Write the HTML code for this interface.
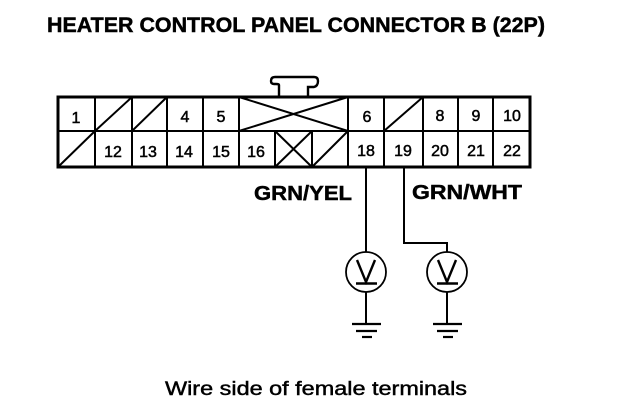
<!DOCTYPE html>
<html>
<head>
<meta charset="utf-8">
<style>
html,body{margin:0;padding:0;background:#fff;}
svg{display:block;}
text{font-family:"Liberation Sans",sans-serif;fill:#000;}
.t{font-weight:bold;stroke:#000;stroke-width:.45px;}
.n{font-size:16px;text-anchor:middle;stroke:#000;stroke-width:.5px;}
.c{shape-rendering:crispEdges;}
</style>
</head>
<body>
<svg width="640" height="412" viewBox="0 0 640 412" xmlns="http://www.w3.org/2000/svg">
<rect width="640" height="412" fill="#fff"/>
<text class="t" x="47" y="32" font-size="21" textLength="498" lengthAdjust="spacingAndGlyphs">HEATER CONTROL PANEL CONNECTOR B (22P)</text>

<!-- latch -->
<path d="M279 97V85Q279 84 276 84H274Q271 84 271 81Q271 77 275 77H314Q318 77 318 81Q318 86 314 87H308V97" fill="none" stroke="#000" stroke-width="2.400"/>

<!-- connector body -->
<g fill="none" stroke="#000" stroke-width="3" class="c">
<rect x="58" y="97" width="472" height="70"/>
</g>
<g fill="none" stroke="#000" stroke-width="2" class="c">
<path d="M58 131H530"/>
<path d="M95 97V167M132 97V167M167 97V167M203 97V167M239 97V167M275 131V167M312 131V167M348 97V167M384 97V167M423 97V167M458 97V167M493 97V167"/>
</g>
<g fill="none" stroke="#000" stroke-width="2">
<path d="M95 131L132 97M132 131L167 97M58 167L95 131"/>
<path d="M239 97L348 131M239 131L348 97"/>
<path d="M275 131L312 167M275 167L312 131M312 167L348 131"/>
<path d="M384 131L423 97"/>
</g>

<!-- pin numbers -->
<g>
<text class="n" x="76" y="123">1</text>
<text class="n" x="185" y="122">4</text>
<text class="n" x="221" y="122">5</text>
<text class="n" x="367" y="122">6</text>
<text class="n" x="440" y="121">8</text>
<text class="n" x="476" y="121">9</text>
<text class="n" x="512" y="121">10</text>
<text class="n" x="113" y="157">12</text>
<text class="n" x="148" y="157">13</text>
<text class="n" x="184" y="157">14</text>
<text class="n" x="221" y="157">15</text>
<text class="n" x="256" y="157">16</text>
<text class="n" x="366" y="156">18</text>
<text class="n" x="403" y="156">19</text>
<text class="n" x="440" y="156">20</text>
<text class="n" x="476" y="156">21</text>
<text class="n" x="512" y="156">22</text>
</g>

<!-- wire labels -->
<text class="t" x="254" y="200" font-size="20" textLength="98" lengthAdjust="spacingAndGlyphs">GRN/YEL</text>
<text class="t" x="412" y="199" font-size="20" textLength="110" lengthAdjust="spacingAndGlyphs">GRN/WHT</text>

<!-- wires -->
<g fill="none" stroke="#000" stroke-width="2" class="c">
<path d="M366 167V252"/>
<path d="M404 167V243H447V252"/>
</g>

<!-- meters -->
<g fill="none" stroke="#000">
<circle cx="366" cy="272" r="20" stroke-width="1.800"/>
<path d="M357 260L366 282L375 260" stroke-width="2.400"/>
<path d="M356 283.500H377" stroke-width="2.400"/>
<path d="M366 292V324" stroke-width="2"/>
<path d="M352 324H381" stroke-width="2.200"/>
<path d="M356 331H377" stroke-width="2.200"/>
<path d="M362 337H372" stroke-width="2.200"/>

<circle cx="447" cy="272" r="20" stroke-width="1.800"/>
<path d="M438 260L447 282L456 260" stroke-width="2.400"/>
<path d="M437 283.500H458" stroke-width="2.400"/>
<path d="M447 292V324" stroke-width="2"/>
<path d="M433 324H462" stroke-width="2.200"/>
<path d="M437 331H458" stroke-width="2.200"/>
<path d="M443 337H453" stroke-width="2.200"/>
</g>

<text x="165" y="395" font-size="19" textLength="302" lengthAdjust="spacingAndGlyphs" stroke="#000" stroke-width=".45">Wire side of female terminals</text>
</svg>
</body>
</html>
